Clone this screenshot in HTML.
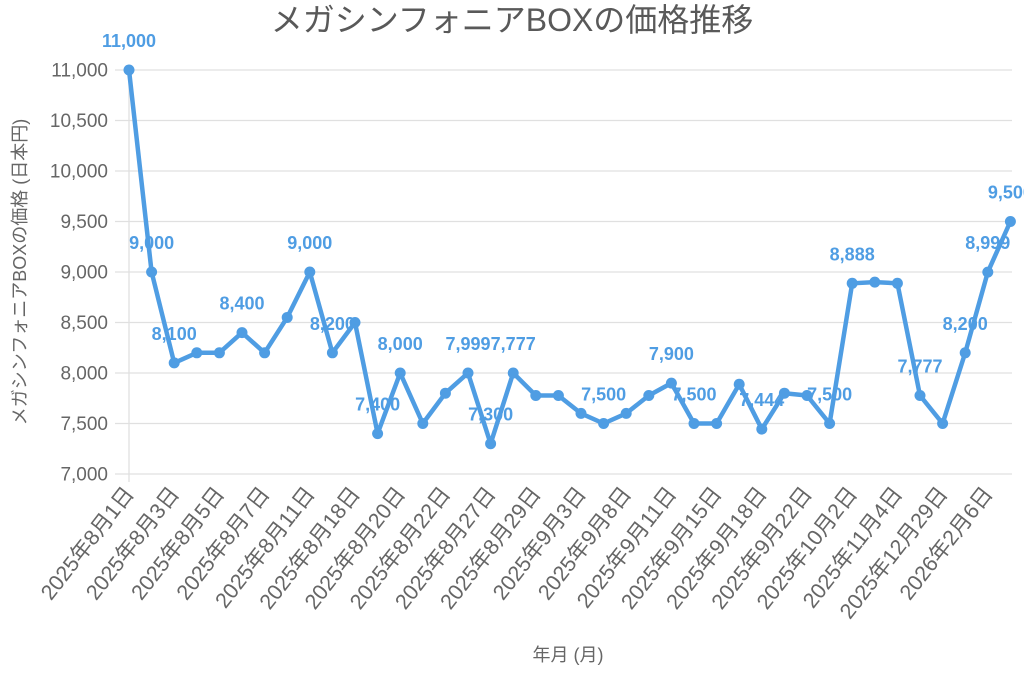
<!DOCTYPE html>
<html><head><meta charset="utf-8"><style>
html,body{margin:0;padding:0;background:#fff;width:1024px;height:676px;overflow:hidden}
svg{display:block;font-family:"Liberation Sans","Noto Sans CJK JP",sans-serif}
</style></head><body>
<svg id="c" width="1024" height="676" xmlns="http://www.w3.org/2000/svg"></svg>
<script>
const s=document.getElementById('c');let h='';
const X0=129,DX=22.6,yv=v=>474-(v-7000)*0.101;
h+='<text x="512" y="31" font-size="32" fill="#595959" text-anchor="middle">メガシンフォニアBOXの価格推移</text>';
for(let v=7000;v<=11000;v+=500){const y=yv(v);h+=`<line x1="115" x2="1012" y1="${y}" y2="${y}" stroke="#e0e0e0" stroke-width="1.3"/>`;
h+=`<text x="108" y="${y+6.5}" font-size="19" fill="#666" text-anchor="end">${v.toLocaleString('en-US')}</text>`;}
h+='<line x1="129" x2="129" y1="70" y2="482" stroke="#e0e0e0" stroke-width="1.3"/>';
const d=[11000,9000,8100,8200,8200,8400,8200,8550,9000,8200,8500,7400,8000,7500,7800,8000,7300,8000,7777,7777,7600,7500,7600,7777,7900,7500,7500,7888,7444,7800,7777,7500,8888,8900,8888,7777,7500,8200,8999,9500];
const pts=d.map((v,i)=>[X0+i*DX,yv(v)]);
h+=`<polyline points="${pts.map(p=>p.join(',')).join(' ')}" fill="none" stroke="#4f9de3" stroke-width="4.5" stroke-linejoin="round"/>`;
pts.forEach(p=>h+=`<circle cx="${p[0]}" cy="${p[1]}" r="5.5" fill="#4f9de3"/>`);
const lab={0:'11,000',1:'9,000',2:'8,100',5:'8,400',8:'9,000',9:'8,200',11:'7,400',12:'8,000',15:'7,999',16:'7,300',17:'7,777',21:'7,500',24:'7,900',25:'7,500',28:'7,444',31:'7,500',32:'8,888',35:'7,777',37:'8,200',38:'8,999',39:'9,500'};
for(const k in lab){const p=pts[k];h+=`<text x="${p[0]}" y="${p[1]-23}" font-size="18" font-weight="bold" fill="#4f9de3" text-anchor="middle">${lab[k]}</text>`;}
const xl=['2025年8月1日','2025年8月3日','2025年8月5日','2025年8月7日','2025年8月11日','2025年8月18日','2025年8月20日','2025年8月22日','2025年8月27日','2025年8月29日','2025年9月3日','2025年9月8日','2025年9月11日','2025年9月15日','2025年9月18日','2025年9月22日','2025年10月2日','2025年11月4日','2025年12月29日','2026年2月6日'];
xl.forEach((t,i)=>{const x=X0+i*2*DX+6,y=494;h+=`<text x="${x}" y="${y}" font-size="21.5" fill="#666" text-anchor="end" transform="rotate(-52 ${x} ${y})">${t}</text>`;});
h+='<text x="568" y="661" font-size="18" fill="#666" text-anchor="middle">年月 (月)</text>';
h+='<text x="0" y="0" font-size="18" fill="#666" text-anchor="middle" transform="translate(26 272) rotate(-90)">メガシンフォニアBOXの価格 (日本円)</text>';
s.innerHTML=h;
</script>
</body></html>
